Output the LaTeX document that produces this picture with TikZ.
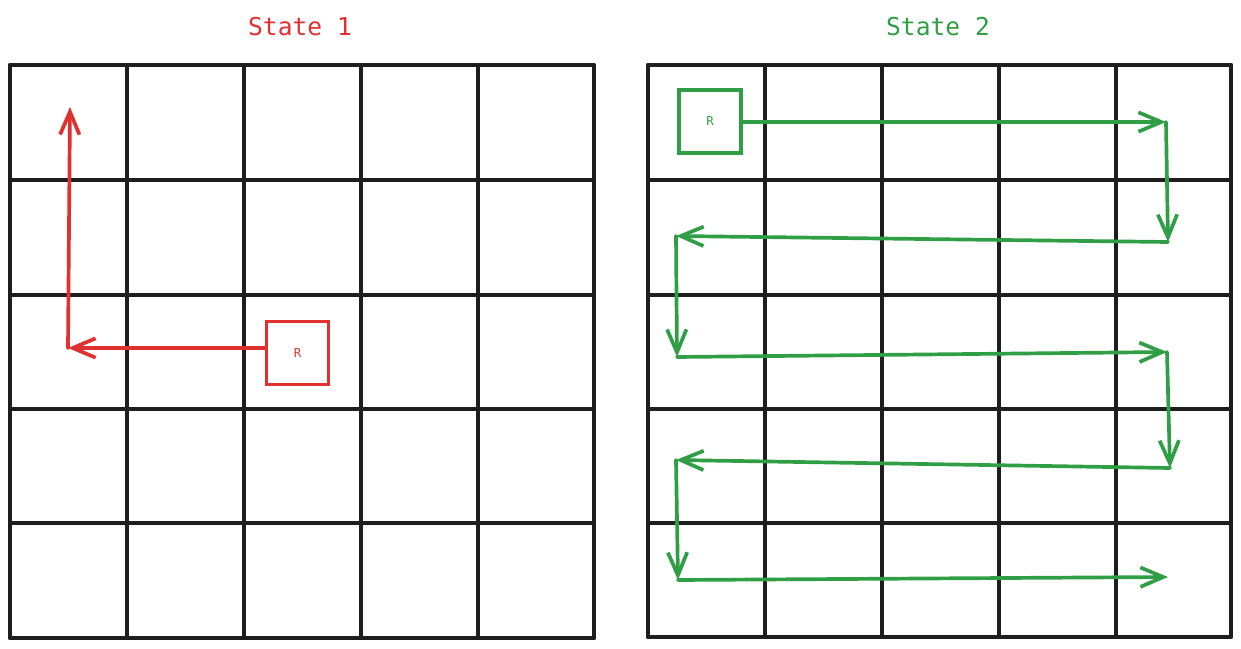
\documentclass[tikz,border=0pt]{standalone}
\usepackage{fontspec}
\newfontfamily\sketchfont{DejaVu Sans Mono}
\usetikzlibrary{arrows.meta}
\definecolor{inkblack}{HTML}{1E1E1E}
\definecolor{inkred}{HTML}{E03131}
\definecolor{inkgreen}{HTML}{2F9E44}

\begin{document}
\begin{tikzpicture}[
        x=0.02cm, y=-0.02cm,
        grid_line/.style={draw=inkblack, line width=2.2pt, line cap=round},
        robot_box/.style={draw, rectangle, line width=2.2pt, minimum width=1.24cm, minimum height=1.26cm, font=\sketchfont\fontsize{7}{8}\selectfont},
        title_text/.style={font=\sketchfont\fontsize{14}{16}\selectfont},
        move_red/.style={-{Straight Barb[length=13pt, width=11pt, line width=2.1pt]}, line width=2.1pt, line cap=round, inkred},
        move_green/.style={-{Straight Barb[length=13pt, width=11pt, line width=2.1pt]}, line width=2.1pt, line cap=round, inkgreen}
    ]
    \useasboundingbox (0,0) rectangle (1241,649);

    % ==================== State 1 (Left) ====================
    \node[title_text, text=inkred] (title_one) at (300, 27) {State 1};

    % Grid
    \foreach \x in {10,127,244,361,478,594}
        \draw[grid_line] (\x, 65) -- (\x, 638);
    \foreach \y in {65,180,295,409,523,638}
        \draw[grid_line] (10, \y) -- (594, \y);

    % Robot
    \node[robot_box, draw=inkred, text=inkred] (robot_one) at (297.5, 353) {R};

    % Path
    \coordinate (turn_one) at (68, 348);
    \coordinate (goal_one) at (70, 107);
    \draw[move_red] (robot_one.west |- turn_one) -- (turn_one);
    \draw[move_red] (turn_one) -- (goal_one);

    % ==================== State 2 (Right) ====================
    \node[title_text, text=inkgreen] (title_two) at (938, 27) {State 2};

    % Grid
    \foreach \x in {648,765,882,999,1116,1231}
        \draw[grid_line] (\x, 65) -- (\x, 637);
    \foreach \y in {65,180,295,409,523,637}
        \draw[grid_line] (648, \y) -- (1231, \y);

    % Robot
    \node[robot_box, draw=inkgreen, text=inkgreen] (robot_two) at (710, 121.5) {R};

    % Sweep path
    \coordinate (sweep_a) at (1166, 122);
    \coordinate (sweep_b) at (1168, 242);
    \coordinate (sweep_c) at (676, 236);
    \coordinate (sweep_d) at (677, 357);
    \coordinate (sweep_e) at (1167, 352);
    \coordinate (sweep_f) at (1170, 468);
    \coordinate (sweep_g) at (676, 460);
    \coordinate (sweep_h) at (678, 580);
    \coordinate (sweep_i) at (1168, 577);

    \draw[move_green] (robot_two.east |- sweep_a) -- (sweep_a);
    \draw[move_green] (sweep_a) -- (sweep_b);
    \draw[move_green] (sweep_b) -- (sweep_c);
    \draw[move_green] (sweep_c) -- (sweep_d);
    \draw[move_green] (sweep_d) -- (sweep_e);
    \draw[move_green] (sweep_e) -- (sweep_f);
    \draw[move_green] (sweep_f) -- (sweep_g);
    \draw[move_green] (sweep_g) -- (sweep_h);
    \draw[move_green] (sweep_h) -- (sweep_i);

\end{tikzpicture}
\end{document}
